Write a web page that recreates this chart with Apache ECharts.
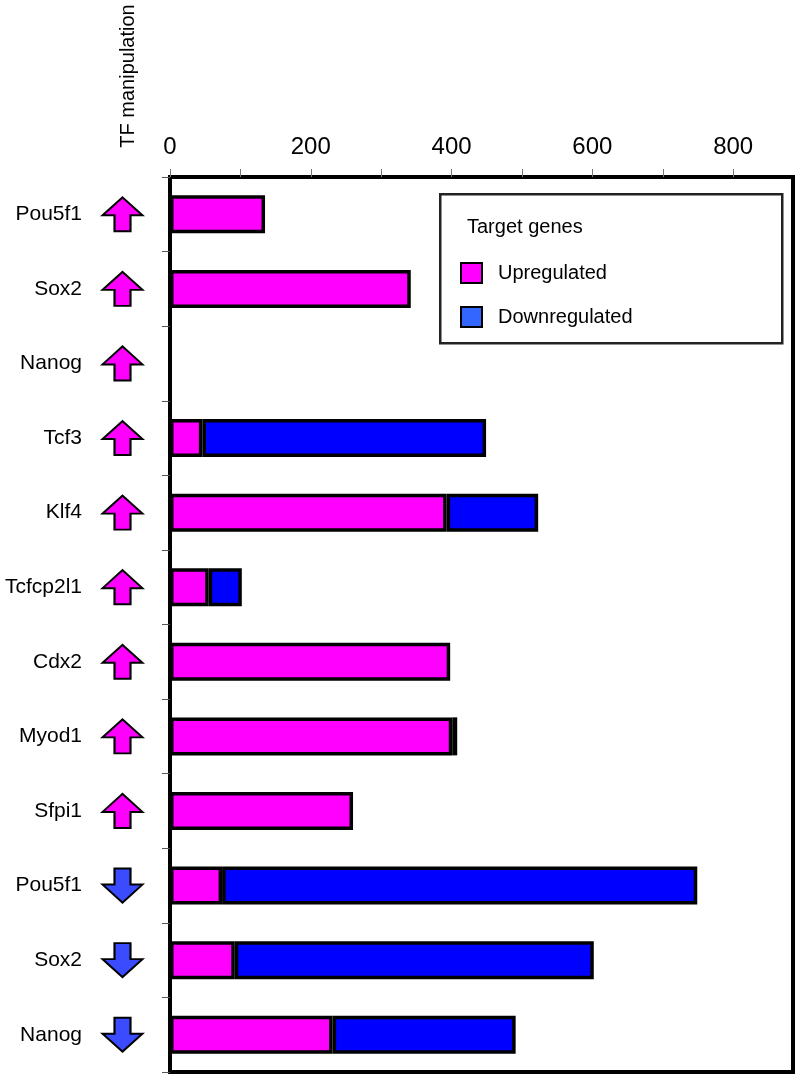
<!DOCTYPE html>
<html>
<head>
<meta charset="utf-8">
<script src="https://cdn.jsdelivr.net/npm/echarts@6/dist/echarts.min.js"></script>
<style>
html,body{margin:0;padding:0;background:#fff;}
#chart{width:800px;height:1078px;}
</style>
</head>
<body>
<div id="chart"></div>
<script>
// ---- data ----
var categories = ['Pou5f1','Sox2','Nanog','Tcf3','Klf4','Tcfcp2l1','Cdx2','Myod1','Sfpi1','Pou5f1','Sox2','Nanog'];
var manipulation = ['up','up','up','up','up','up','up','up','up','down','down','down'];
var upregulated   = [135, 342, 0, 46, 393, 55, 398, 401, 260, 74, 92, 231];
var downregulated = [0, 0, 0, 403, 130, 47, 0, 7, 0, 675, 510, 260];
var xTickLabels = [0, 200, 400, 600, 800];

var FONT = '"Liberation Sans", Arial, sans-serif';
var UP_PATH = 'path://M20,0 L40,18 L28,18 L28,34 L12,34 L12,18 L0,18 Z';
var DOWN_PATH = 'path://M12,0 L28,0 L28,16 L40,16 L20,34 L0,16 L12,16 Z';

function nz(v){ return v === 0 ? '-' : v; }

var arrowData = manipulation.map(function(m, i){
  return {
    value: [0.5, i],
    symbol: m === 'up' ? UP_PATH : DOWN_PATH,
    itemStyle: { color: m === 'up' ? '#ff00ff' : '#3b4bff' }
  };
});

var chart = echarts.init(document.getElementById('chart'), null, {renderer:'canvas'});
var option = {
  animation: false,
  backgroundColor: '#fff',
  textStyle: { fontFamily: FONT },
  grid: [
    { left: 170, top: 177, right: 7, bottom: 6, show: true, borderColor: '#000', borderWidth: 4, backgroundColor: 'transparent' },
    { left: 100, top: 177, width: 45, bottom: 6, show: false }
  ],
  xAxis: [
    {
      gridIndex: 0, type: 'value', position: 'top', min: 0, max: 885, interval: 100,
      axisLine: { show: false },
      axisTick: { show: true, length: 8, lineStyle: { color: '#777', width: 1 } },
      splitLine: { show: false },
      axisLabel: {
        margin: 18, fontSize: 24, color: '#000', fontFamily: FONT,
        showMaxLabel: false,
        formatter: function(v){ return xTickLabels.indexOf(v) >= 0 ? String(v) : ''; }
      }
    },
    { gridIndex: 1, type: 'value', min: 0, max: 1, show: false }
  ],
  yAxis: [
    {
      gridIndex: 0, type: 'category', inverse: true, data: categories,
      axisLine: { show: true, lineStyle: { color: '#000', width: 4 } },
      axisTick: { show: true, length: 8, lineStyle: { color: '#555', width: 1 } },
      axisLabel: { show: false }
    },
    {
      gridIndex: 1, type: 'category', inverse: true, data: categories,
      axisLine: { show: false }, axisTick: { show: false },
      axisLabel: { show: true, margin: 18, fontSize: 21, color: '#000', fontFamily: FONT, align: 'right' }
    }
  ],
  legend: {
    orient: 'vertical', left: 455, top: 257, itemWidth: 21, itemHeight: 20, itemGap: 22,
    textStyle: { fontSize: 20, color: '#000', fontFamily: FONT, padding: [0,0,0,11] },
    icon: 'rect',
    data: [
      { name: 'Upregulated', itemStyle: { color: '#ff00ff', borderColor: '#000', borderWidth: 2 } },
      { name: 'Downregulated', itemStyle: { color: '#3366ff', borderColor: '#000', borderWidth: 2 } }
    ]
  },
  graphic: [
    { type: 'rect', left: 439, top: 193, z: 1,
      shape: { width: 342, height: 149 },
      style: { fill: '#fff', stroke: '#222', lineWidth: 2.5 } },
    { type: 'text', x: 467, y: 227, z: 2,
      style: { text: 'Target genes', fill: '#000', font: '20px ' + FONT, verticalAlign: 'middle', textVerticalAlign: 'middle' } },
    { type: 'text', x: 128, y: 76, rotation: Math.PI / 2, z: 2,
      style: { text: 'TF manipulation', fill: '#000', font: '20px ' + FONT, align: 'center', verticalAlign: 'middle', textAlign: 'center', textVerticalAlign: 'middle' } }
  ],
  series: [
    {
      name: 'Upregulated', type: 'bar', stack: 'genes', xAxisIndex: 0, yAxisIndex: 0,
      barWidth: 38,
      itemStyle: { color: '#ff00ff', borderColor: '#000', borderWidth: 3.5 },
      data: upregulated.map(nz)
    },
    {
      name: 'Downregulated', type: 'bar', stack: 'genes', xAxisIndex: 0, yAxisIndex: 0,
      barWidth: 38,
      itemStyle: { color: '#0000ff', borderColor: '#000', borderWidth: 3.5 },
      data: downregulated.map(nz)
    },
    {
      name: 'arrows', type: 'scatter', xAxisIndex: 1, yAxisIndex: 1,
      symbolSize: [40, 34],
      itemStyle: { borderColor: '#000', borderWidth: 2, opacity: 1 },
      data: arrowData
    }
  ]
};
chart.setOption(option);
</script>
</body>
</html>
